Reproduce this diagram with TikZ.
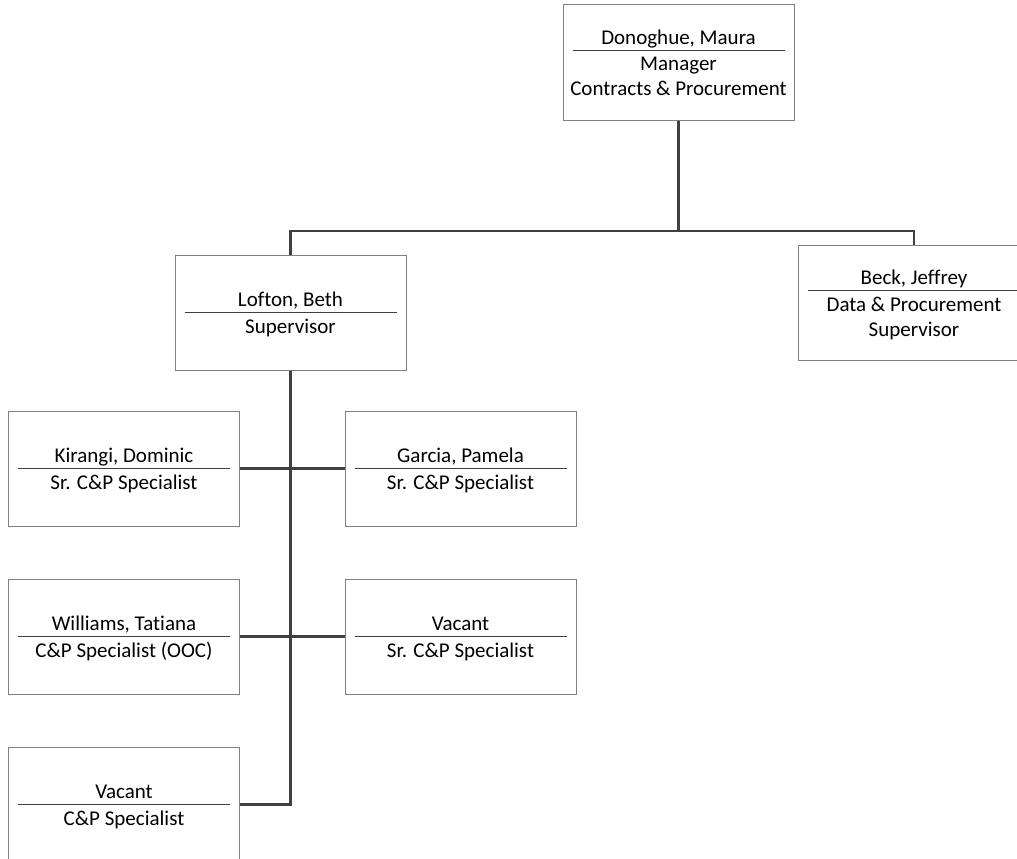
\documentclass[tikz,border=0pt]{standalone}
\usepackage{fontspec,array,colortbl}
\setmainfont[Ligatures=NoCommon]{Carlito}
\tikzstyle{person}=[rectangle, draw=black!50, line width=1pt, minimum width=231pt, minimum height=115pt, inner sep=0pt, fill=white]
\tikzstyle{link}=[line width=2.4pt, draw=black!75]
\newcommand{\card}[2]{%
  \begin{tabular}{@{}>{\centering\arraybackslash}p{228pt}@{}}\rule{0pt}{22.5pt}#1\\[-2pt]
  \noalign{\hbox to 228pt{\hss{\color{black!75}\rule{212pt}{0.9pt}}\hss}}
  \rule{0pt}{20.5pt}#2\end{tabular}}

\begin{document}
\begin{tikzpicture}[x=1pt,y=-1pt,font=\fontsize{21}{25}\selectfont]
\clip (0,0) rectangle (1017,859);

\node[person] (donoghue) at (678.5,62.5) {\card{Donoghue, Maura}{Manager\\Contracts \& Procurement}};
\node[person] (lofton) at (290.5,312.5) {\card{Lofton, Beth}{Supervisor}};
\node[person] (beck) at (914,303) {\card{Beck, Jeffrey}{Data \& Procurement\\Supervisor}};

\node[person] (kirangi) at (124,468.5) {\card{Kirangi, Dominic}{Sr. C\&P Specialist}};
\node[person] (garcia) at (460.5,468.5) {\card{Garcia, Pamela}{Sr. C\&P Specialist}};
\node[person] (williams) at (124,636.5) {\card{Williams, Tatiana}{C\&P Specialist (OOC)}};
\node[person] (vacantsr) at (460.5,636.5) {\card{Vacant}{Sr. C\&P Specialist}};
\node[person] (vacantcp) at (124,804.5) {\card{Vacant}{C\&P Specialist}};

\coordinate (bus) at (678.5,231);
\draw[link] (donoghue.south)--(bus) -| (lofton.north);
\draw[link] (bus) -| (beck.north);

\draw[link] (lofton.south) |- (vacantcp.east);
\draw[link] (kirangi)--(garcia);
\draw[link] (williams)--(vacantsr);
\end{tikzpicture}
\end{document}
